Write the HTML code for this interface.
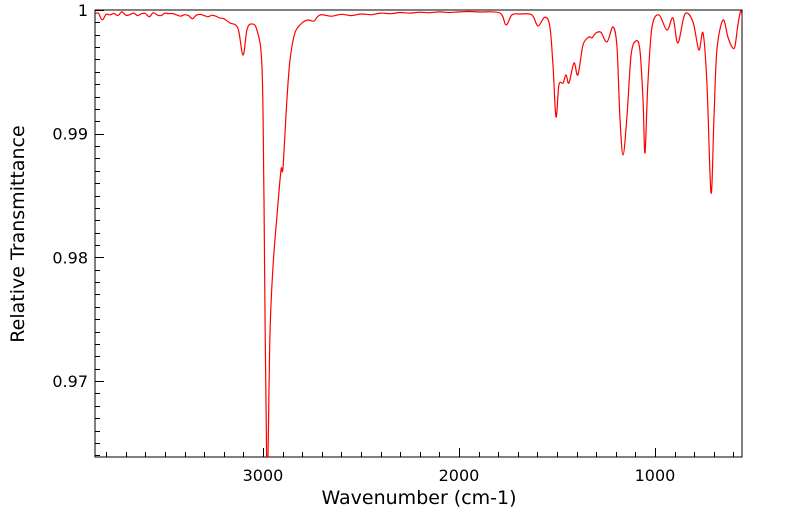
<!DOCTYPE html>
<html><head><meta charset="utf-8"><style>
html,body{margin:0;padding:0;background:#fff;}
svg text{font-family:"DejaVu Sans","Liberation Sans",sans-serif;fill:#000;}
</style></head><body>
<svg id="chart" width="799" height="516" xmlns="http://www.w3.org/2000/svg">
<g id="axes"></g>
<g id="plot"></g>
<text x="419" y="504" font-size="19" text-anchor="middle">Wavenumber (cm-1)</text>
<text transform="translate(24,234) rotate(-90)" font-size="19" text-anchor="middle">Relative Transmittance</text>
</svg>
<script>
const wavenumbers = [3857,3840,3820,3800,3780,3760,3740,3720,3700,3680,3660,3640,3620,3600,3580,3560,3540,3520,3500,3480,3460,3440,3420,3400,3380,3360,3340,3320,3300,3280,3260,3240,3220,3200,3168,3128,3102,3082,3061,3031,3005,2995,2980,2964,2949,2929,2908,2898,2878,2862,2837,2801,2770,2740,2709,2650,2600,2550,2500,2450,2400,2350,2300,2250,2200,2150,2100,2050,2000,1950,1893,1791,1760,1730,1689,1628,1597,1561,1536,1520,1505,1490,1469,1454,1439,1413,1393,1367,1337,1321,1301,1276,1245,1214,1194,1179,1163,1143,1122,1097,1077,1061,1051,1036,1015,980,939,908,883,847,806,776,755,735,714,699,684,653,628,607,592,577,561,551];
const transmittance = [0.99968,0.99975,0.9992,0.99965,0.9996,0.99972,0.99955,0.99985,0.99958,0.99962,0.99975,0.99955,0.9997,0.99972,0.99945,0.99978,0.9996,0.99955,0.99975,0.9997,0.99972,0.9996,0.9995,0.99962,0.99955,0.9993,0.99958,0.99965,0.99955,0.99945,0.99958,0.9995,0.99935,0.9993,0.99895,0.99854,0.99636,0.99838,0.99887,0.99838,0.99539,0.98464,0.962,0.97389,0.97922,0.98327,0.98707,0.98723,0.99272,0.99596,0.99814,0.99895,0.99919,0.99911,0.9996,0.9995,0.99965,0.99955,0.99968,0.99962,0.99975,0.9997,0.9998,0.99975,0.99982,0.99978,0.99985,0.9998,0.99985,0.99988,0.99984,0.99976,0.99879,0.9996,0.99968,0.9996,0.99871,0.99943,0.99863,0.99539,0.99135,0.99394,0.9941,0.99475,0.9941,0.99572,0.99475,0.99717,0.99782,0.99775,0.99814,0.9982,0.99741,0.99863,0.99701,0.99135,0.98828,0.99135,0.99636,0.9975,0.99677,0.99272,0.98844,0.9941,0.99863,0.9996,0.99838,0.99935,0.99733,0.99968,0.99903,0.99677,0.99814,0.9941,0.98521,0.99135,0.99677,0.99919,0.99782,0.99701,0.99705,0.99879,0.99992,0.9987];
const xTicks = [3000,2000,1000];
const xTickLabels = ["3000","2000","1000"];
const yTicks = [1,0.99,0.98,0.97];
const yTickLabels = ["1","0.99","0.98","0.97"];

const L=95,R=742,T=10,B=457;
const xMin=3857,xMax=556,yMin=0.96386,yMax=1;
function sx(v){return L+(xMin-v)/(xMin-xMax)*(R-L);}
function sy(v){return B-(v-yMin)/(yMax-yMin)*(B-T);}
const NS="http://www.w3.org/2000/svg";
const axes=document.getElementById('axes'), plot=document.getElementById('plot');
function mk(tag,attrs,parent){const e=document.createElementNS(NS,tag);for(const k in attrs)e.setAttribute(k,attrs[k]);parent.appendChild(e);return e;}

const defs=mk('defs',{},document.getElementById('chart'));
const cp=mk('clipPath',{id:'clip'},defs);
mk('rect',{x:L,y:T,width:R-L,height:B-T},cp);

const frame=mk('rect',{x:L,y:T,width:R-L,height:B-T,fill:'none',stroke:'#000','stroke-width':1},axes);



for(let w=3800;w>=600;w-=100){
  const x=Math.round(sx(w))+0.5, major=(w%1000===0);
  const t=mk('line',{x1:x,x2:x,y1:B,y2:B-(major?9:5),stroke:'#000','stroke-width':1},axes);
  
  
}
xTicks.forEach((v,i)=>{
  const t=mk('text',{x:sx(v),y:481,'font-size':16,'text-anchor':'middle'},axes);
  t.textContent=xTickLabels[i];
  
  
});
for(let k=0;k<=36;k++){
  const v=1-k*0.001; if(v<yMin) break;
  const y=Math.round(sy(v))+0.5, major=(k%10===0);
  const t=mk('line',{x1:L,x2:L+(major?9:5),y1:y,y2:y,stroke:'#000','stroke-width':1},axes);
  
  
}
yTicks.forEach((v,i)=>{
  const t=mk('text',{x:88,y:sy(v)+6,'font-size':16,'text-anchor':'end'},axes);
  t.textContent=yTickLabels[i];
  
  
});

const P=wavenumbers.map((w,i)=>[sx(w),sy(transmittance[i])]);
let d='M'+P[0][0].toFixed(1)+','+P[0][1].toFixed(1);
for(let i=0;i<P.length-1;i++){
  const p0=P[Math.max(i-1,0)],p1=P[i],p2=P[i+1],p3=P[Math.min(i+2,P.length-1)];
  const c1=[p1[0]+(p2[0]-p0[0])/6,p1[1]+(p2[1]-p0[1])/6];
  const c2=[p2[0]-(p3[0]-p1[0])/6,p2[1]-(p3[1]-p1[1])/6];
  d+=' C'+c1.map(n=>n.toFixed(1)).join(',')+' '+c2.map(n=>n.toFixed(1)).join(',')+' '+p2.map(n=>n.toFixed(1)).join(',');
}
const line=mk('path',{d:d,fill:'none',stroke:'#ff0000','stroke-width':1.2,'stroke-linejoin':'round','clip-path':'url(#clip)'},plot);


</script>
</body></html>
